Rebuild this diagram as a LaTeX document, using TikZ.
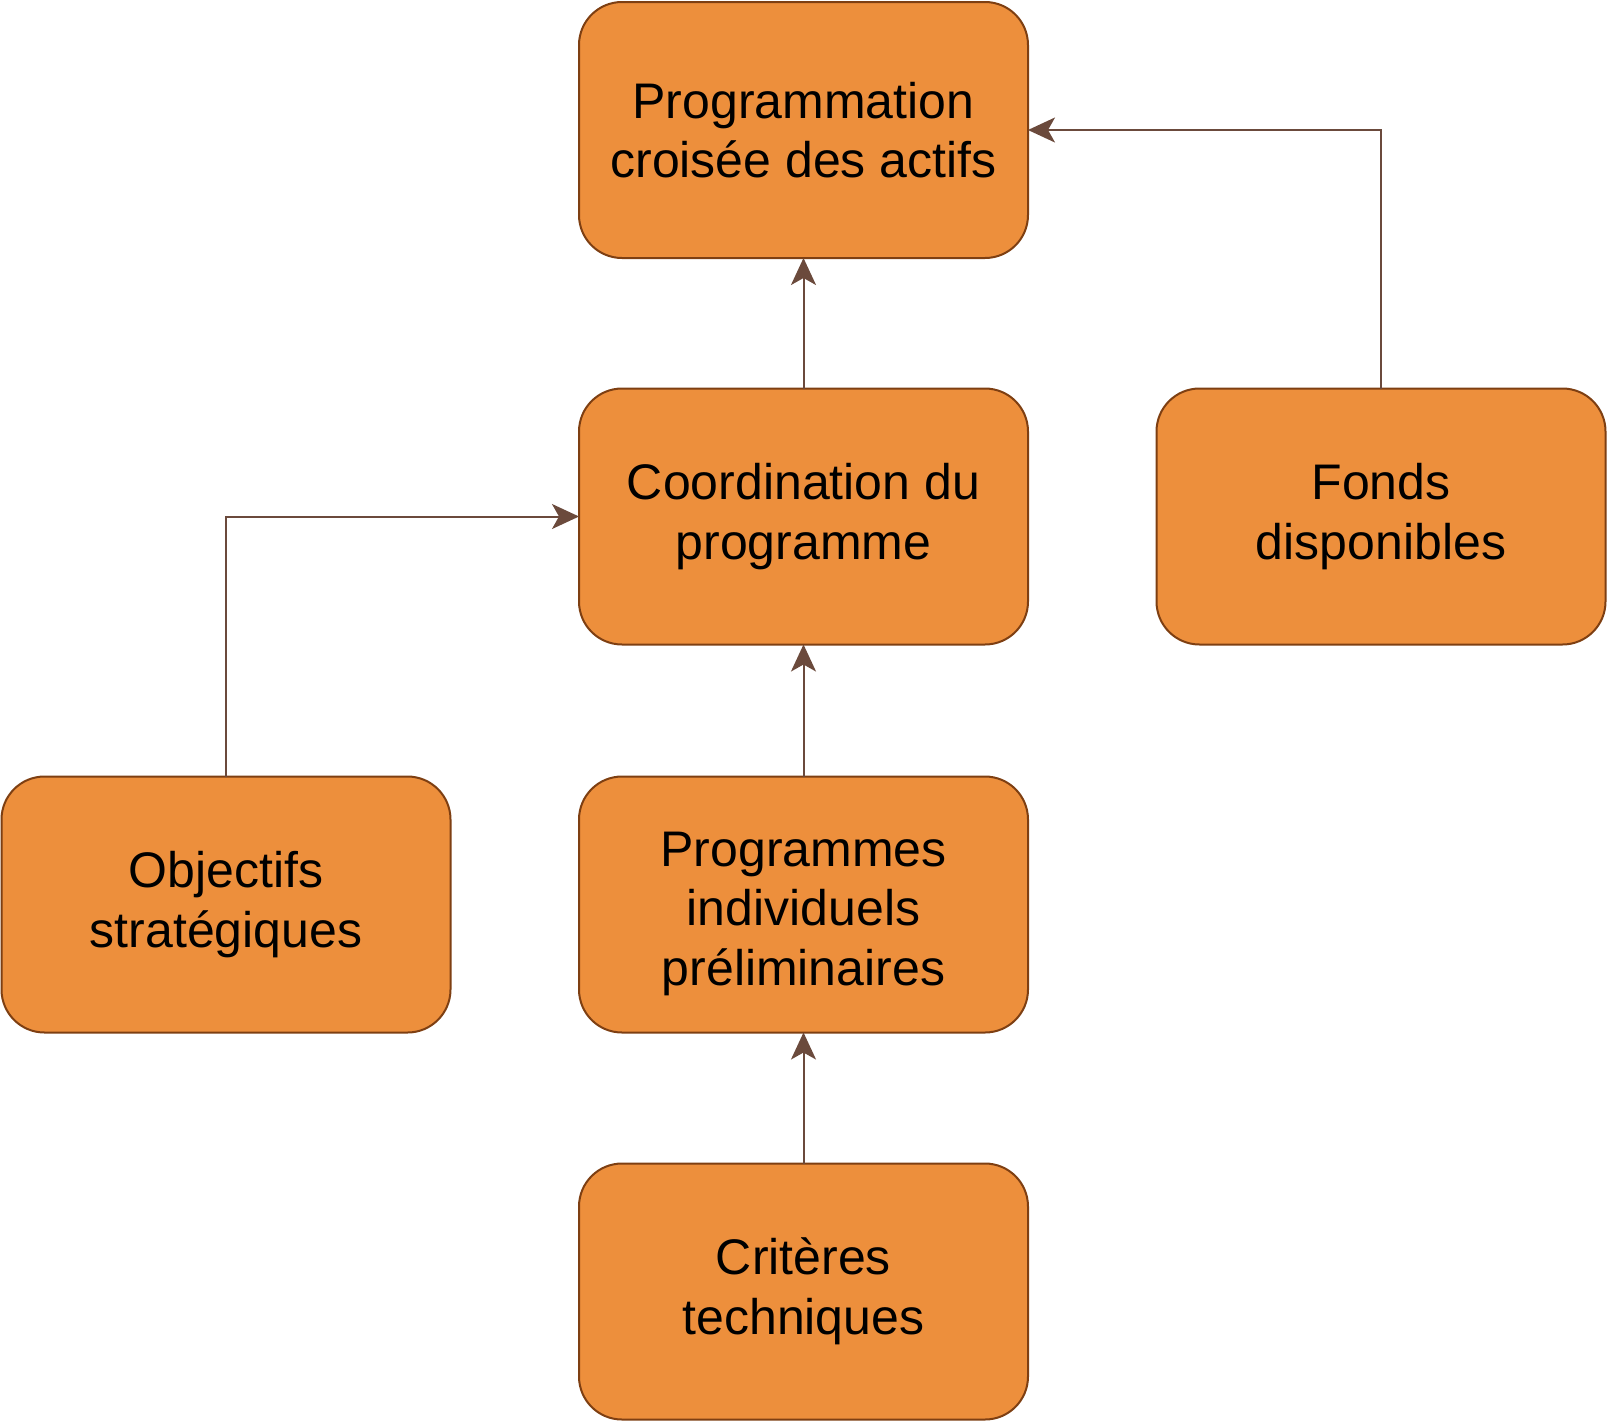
\documentclass[tikz,border=0pt]{standalone}
\usepackage{fontspec}
\setmainfont{Liberation Sans}
\usetikzlibrary{arrows.meta}
\definecolor{boxfill}{HTML}{ED8F3C}
\definecolor{boxline}{HTML}{7E3F12}
\definecolor{arrowcol}{HTML}{6B4A3C}
\begin{document}
\begin{tikzpicture}[x=1pt,y=-1pt,
  box/.style={rectangle, rounded corners=43pt, minimum width=449pt, minimum height=256pt,
    fill=boxfill, draw=boxline, line width=2pt, align=center, inner sep=0pt, outer sep=0pt,
    font=\fontsize{50}{59.5}\selectfont},
  conn/.style={draw=arrowcol, line width=2pt, -{Stealth[length=27pt,width=25pt,inset=7pt]}}]
\useasboundingbox (0,0) rectangle (1607,1422);
\node[box] (top) at (803.5,130) {Programmation\\croisée des actifs};
\node[box] (coord) at (803.5,516.5) {Coordination du\\programme};
\node[box] (fonds) at (1381,516.5) {Fonds\\disponibles};
\node[box] (obj) at (226,904.5) {Objectifs\\stratégiques};
\node[box] (prog) at (803.5,904.5) {\raisebox{-9pt}[\height][\depth]{\parbox{440pt}{\centering Programmes\\individuels\\préliminaires}}};
\node[box] (crit) at (803.5,1291.5) {Critères\\techniques};
\draw[conn] (coord.north) -- (top.south);
\draw[conn] (prog.north) -- (coord.south);
\draw[conn] (crit.north) -- (prog.south);
\draw[conn] (obj.north) |- (coord.west);
\draw[conn] (fonds.north) |- (top.east);
\end{tikzpicture}
\end{document}
